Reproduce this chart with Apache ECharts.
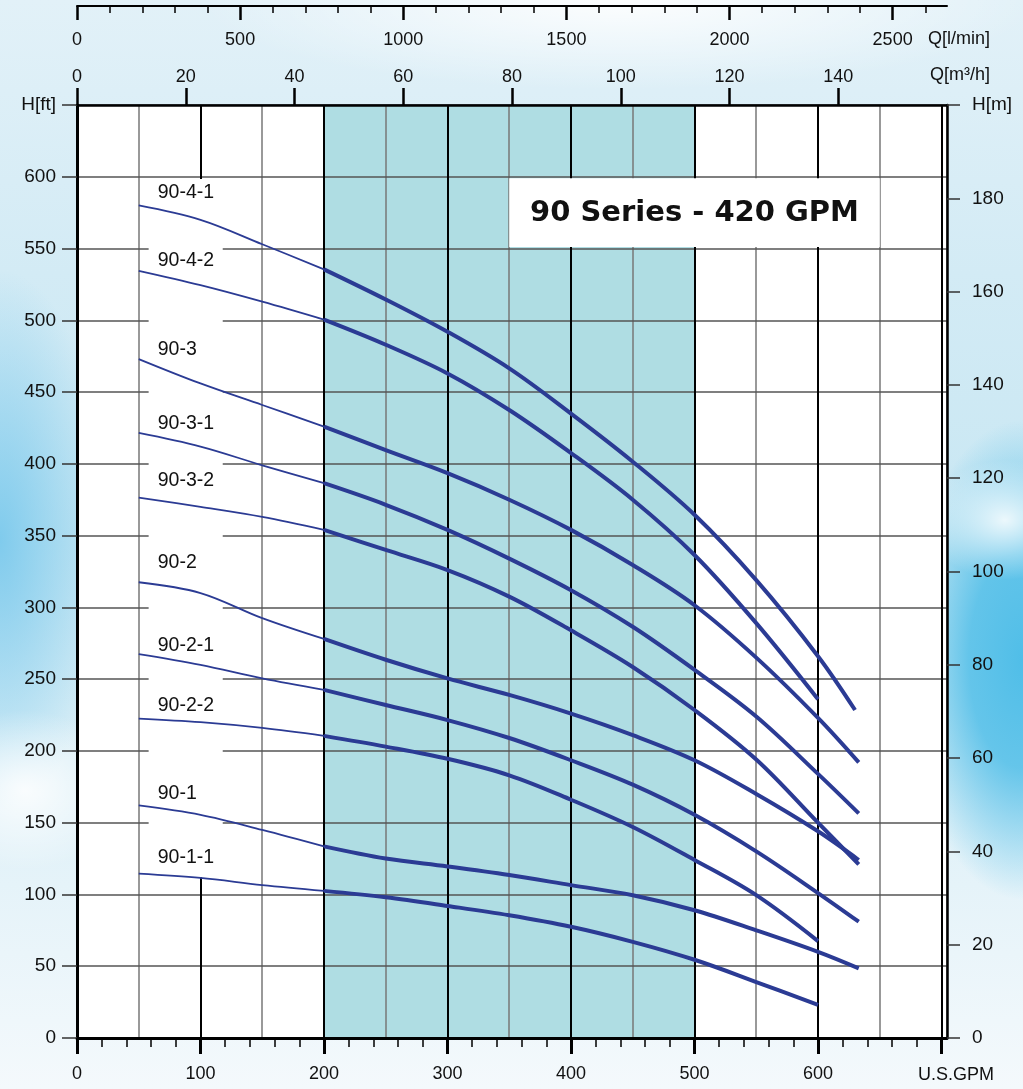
<!DOCTYPE html>
<html>
<head>
<meta charset="utf-8">
<title>90 Series - 420 GPM</title>
<script src="https://cdn.jsdelivr.net/npm/echarts@6/dist/echarts.min.js"></script>
<style>
  html, body { margin: 0; padding: 0; }
  body {
    width: 1023px;
    height: 1089px;
    overflow: hidden;
    background:
      radial-gradient(ellipse 420px 90px at 620px 0px, rgba(255,255,255,0.9), rgba(255,255,255,0) 100%),
      radial-gradient(ellipse 80px 60px at 1005px 520px, rgba(255,255,255,0.85), rgba(255,255,255,0) 100%),
      radial-gradient(ellipse 120px 240px at 1023px 660px, rgba(80,190,232,1) 0%, rgba(80,190,232,0.85) 45%, rgba(80,190,232,0) 100%),
      radial-gradient(ellipse 100px 80px at 25px 790px, rgba(255,255,255,0.85), rgba(255,255,255,0) 100%),
      radial-gradient(ellipse 110px 270px at 0px 540px, rgba(120,200,236,0.9), rgba(120,200,236,0) 100%),
      linear-gradient(180deg, #e2f1f8 0%, #d3ebf5 25%, #c8e7f3 50%, #e0f1f8 75%, #f4f9fc 100%);
  }
  #chart { width: 1023px; height: 1089px; }
</style>
</head>
<body>
<div id="chart"></div>
<script>
// pump curves: head in ft against flow in U.S. GPM
const curveNames = ['90-4-1', '90-4-2', '90-3', '90-3-1', '90-3-2', '90-2', '90-2-1', '90-2-2', '90-1', '90-1-1'];
const flowGpm = [50, 100, 150, 200, 250, 300, 350, 400, 450, 500, 550, 600];
// flow of the last point of each curve
const endFlowGpm = [630, 600, 633, 633, 633, 633, 633, 600, 633, 600];

const head_90_4_1 = [580, 570, 553, 535.5, 514.5, 492, 466.5, 435, 401.5, 364.5, 319, 266, 228.5];
const head_90_4_2 = [534.5, 524.5, 513, 500.5, 483, 463, 437.5, 407.5, 375, 336.5, 289, 236];
const head_90_3 = [473, 456, 441, 426, 409.5, 393.5, 375, 354, 329.5, 301.5, 265, 223, 192];
const head_90_3_1 = [421.5, 412, 399, 386.5, 371.5, 354, 334, 312, 286.5, 256.5, 224, 184, 156.5];
const head_90_3_2 = [376.5, 370, 363, 354, 340, 326, 307.5, 284, 258.5, 228.5, 194, 150, 121];
const head_90_2 = [317.5, 310, 292.5, 278, 263.5, 250.5, 239, 226, 211, 193.5, 170, 144, 124];
const head_90_2_1 = [267.5, 260, 250.5, 242.5, 232, 221.5, 209, 193.5, 176.5, 155.5, 130, 101, 81];
const head_90_2_2 = [222.5, 220, 216, 210.5, 203, 194.5, 183, 166, 147, 124, 99.5, 67.5];
const head_90_1 = [162, 155.5, 145, 133.5, 125, 119.5, 113.5, 106.5, 99.5, 89, 75, 60, 48.5];
const head_90_1_1 = [114.5, 111.5, 106.5, 102.5, 98, 92, 85.5, 77.5, 67, 54.5, 39, 23];

const heads = [head_90_4_1, head_90_4_2, head_90_3, head_90_3_1, head_90_3_2,
  head_90_2, head_90_2_1, head_90_2_2, head_90_1, head_90_1_1];

// tick labels
const gpmTicks = [0, 100, 200, 300, 400, 500, 600, 700];
const gpmLabels = [0, 100, 200, 300, 400, 500, 600];
const lpmTicks = [0, 500, 1000, 1500, 2000, 2500];
const gpmMinorTicks = [];
for (let v = 20; v < 700; v += 20) if (v % 100) gpmMinorTicks.push(v);
const lpmMinorTicks = [];
for (let v = 100; v <= 2600; v += 100) if (v % 500) lpmMinorTicks.push(v);

const M3H_MAX = 160;
const GPM_MAX = M3H_MAX * 4.402868;
const LPM_MAX = M3H_MAX * 1000 / 60;

// how far each curve name sits above its first point (px)
const labelLift = [12.5, 10, 9, 9.5, 16.5, 20, 8, 13.5, 11.5, 16.5];

const FONT = 'Liberation Sans, Arial, Helvetica, sans-serif';
const BLUE = '#2b3b94';
const TEAL = '#afdde3';
const xFont = { fontFamily: FONT, fontSize: 18, color: '#111' };
const yFont = { fontFamily: FONT, fontSize: 19, color: '#111' };
const plain = function (v) { return String(v); };

const chart = echarts.init(document.getElementById('chart'), null, { renderer: 'canvas' });

const series = [
  {
    name: 'shade',
    type: 'line',
    data: [],
    silent: true,
    z: 1,
    markArea: {
      silent: true,
      itemStyle: { color: TEAL },
      label: { show: false },
      data: [[{ xAxis: 200 }, { xAxis: 500 }]]
    }
  }
];

heads.forEach(function (h, i) {
  const flows = flowGpm.slice(0, h.length - 1).concat([endFlowGpm[i]]);
  const pts = h.map(function (v, k) { return [flows[k], v]; });
  const k200 = flows.indexOf(200);
  series.push({
    name: curveNames[i],
    type: 'line',
    data: pts.slice(0, k200 + 1),
    smooth: 0.35,
    showSymbol: false,
    silent: true,
    z: 5,
    lineStyle: { color: BLUE, width: 1.8 },
    markPoint: {
      silent: true,
      symbol: 'circle',
      symbolSize: 0,
      data: [{ name: curveNames[i], coord: pts[0] }],
      label: {
        show: true,
        position: 'inside',
        align: 'left',
        verticalAlign: 'middle',
        offset: [19, -labelLift[i]],
        formatter: '{b}',
        fontFamily: FONT,
        fontSize: 19.5,
        color: '#111'
      }
    }
  });
  series.push({
    name: curveNames[i],
    type: 'line',
    data: pts.slice(k200),
    smooth: 0.35,
    showSymbol: false,
    silent: true,
    z: 5,
    lineStyle: { color: BLUE, width: 4 }
  });
});

chart.setOption({
  animation: false,
  grid: {
    left: 77, right: 76, top: 105, bottom: 51,
    show: true,
    backgroundColor: '#fff',
    borderWidth: 0
  },
  xAxis: [
    { // U.S. GPM, major ticks and black grid lines
      type: 'value', position: 'bottom', min: 0, max: GPM_MAX, interval: 100, z: 3,
      axisLine: { show: true, onZero: false, lineStyle: { color: '#000', width: 3 } },
      axisTick: { show: true, customValues: gpmTicks, length: 16, lineStyle: { color: '#000', width: 3 } },
      axisLabel: Object.assign({ customValues: gpmLabels, margin: 27, formatter: plain }, xFont),
      splitLine: { show: true, lineStyle: { color: '#000', width: 2 } }
    },
    { // minor ticks every 20 GPM
      type: 'value', position: 'bottom', min: 0, max: GPM_MAX, z: 3,
      axisLine: { show: false, onZero: false },
      axisTick: { show: true, customValues: gpmMinorTicks, length: 9, lineStyle: { color: '#000', width: 1.5 } },
      axisLabel: { show: false },
      splitLine: { show: false }
    },
    { // grey grid lines every 50 GPM
      type: 'value', position: 'bottom', min: 0, max: GPM_MAX, interval: 50, z: 2,
      axisLine: { show: false, onZero: false },
      axisTick: { show: false },
      axisLabel: { show: false },
      splitLine: { show: true, lineStyle: { color: '#777', width: 1.5 } }
    },
    { // Q [m3/h]
      type: 'value', position: 'top', min: 0, max: M3H_MAX, interval: 20, z: 3,
      axisLine: { show: true, onZero: false, lineStyle: { color: '#000', width: 2.5 } },
      axisTick: { show: true, length: 17, lineStyle: { color: '#000', width: 2.5 } },
      axisLabel: Object.assign({ margin: 19, showMaxLabel: false, formatter: plain }, xFont),
      splitLine: { show: false }
    },
    { // Q [l/min]
      type: 'value', position: 'top', offset: 99, min: 0, max: LPM_MAX, z: 3,
      axisLine: { show: true, onZero: false, lineStyle: { color: '#000', width: 2 } },
      axisTick: { show: true, inside: true, customValues: lpmTicks, length: 14, lineStyle: { color: '#000', width: 2.5 } },
      axisLabel: Object.assign({ inside: true, customValues: lpmTicks, margin: 25, formatter: plain }, xFont),
      splitLine: { show: false }
    },
    { // Q [l/min] minor ticks
      type: 'value', position: 'top', offset: 99, min: 0, max: LPM_MAX, z: 3,
      axisLine: { show: false, onZero: false },
      axisTick: { show: true, inside: true, customValues: lpmMinorTicks, length: 7, lineStyle: { color: '#000', width: 1.5 } },
      axisLabel: { show: false },
      splitLine: { show: false }
    }
  ],
  yAxis: [
    { // H [ft]
      type: 'value', position: 'left', min: 0, max: 650, interval: 50, z: 3,
      axisLine: { show: true, onZero: false, lineStyle: { color: '#000', width: 3 } },
      axisTick: { show: true, length: 15, lineStyle: { color: '#333', width: 1.5 } },
      axisLabel: Object.assign({
        margin: 21,
        formatter: function (v) { return v === 650 ? 'H[ft]' : String(v); }
      }, yFont),
      splitLine: { show: true, lineStyle: { color: '#555', width: 1.5 } }
    },
    { // H [m]
      type: 'value', position: 'right', min: 0, max: 200, interval: 20, z: 3,
      axisLine: { show: true, onZero: false, lineStyle: { color: '#000', width: 2.5 } },
      axisTick: { show: true, length: 13, lineStyle: { color: '#333', width: 1.5 } },
      axisLabel: Object.assign({
        margin: 25,
        formatter: function (v) { return v === 200 ? 'H[m]' : String(v); }
      }, yFont),
      splitLine: { show: false }
    }
  ],
  series: series
});

// white boxes (curve names column, title) and axis names
const toPx = function (p) { return chart.convertToPixel({ xAxisIndex: 0, yAxisIndex: 0 }, p); };
const nameTopLeft = toPx([58, 598.5]);
const nameBotRight = toPx([118, 112]);
const titleTopLeft = toPx([350, 599]);
const titleBotRight = toPx([650, 551]);

chart.setOption({
  graphic: [
    {
      type: 'rect', silent: true, z: 4,
      shape: { x: nameTopLeft[0], y: nameTopLeft[1], width: nameBotRight[0] - nameTopLeft[0], height: nameBotRight[1] - nameTopLeft[1] },
      style: { fill: '#fff' }
    },
    {
      type: 'rect', silent: true, z: 4,
      shape: { x: titleTopLeft[0], y: titleTopLeft[1], width: titleBotRight[0] - titleTopLeft[0], height: titleBotRight[1] - titleTopLeft[1] },
      style: { fill: '#fff' }
    },
    {
      type: 'text', silent: true, z: 6,
      x: (titleTopLeft[0] + titleBotRight[0]) / 2,
      y: (titleTopLeft[1] + titleBotRight[1]) / 2 + 1,
      style: {
        text: '90 Series - 420 GPM',
        fontFamily: 'DejaVu Sans, Liberation Sans, sans-serif',
        fontWeight: 'bold',
        fontSize: 29,
        fill: '#111',
        align: 'center',
        verticalAlign: 'middle'
      }
    },
    {
      type: 'text', silent: true, z: 6, x: 928, y: 30,
      style: { text: 'Q[l/min]', fontFamily: FONT, fontSize: 18, fill: '#111' }
    },
    {
      type: 'text', silent: true, z: 6, x: 930, y: 66,
      style: { text: 'Q[m³/h]', fontFamily: FONT, fontSize: 18, fill: '#111' }
    },
    {
      type: 'text', silent: true, z: 6, x: 918, y: 1066,
      style: { text: 'U.S.GPM', fontFamily: FONT, fontSize: 18, fill: '#111' }
    }
  ]
});
</script>
</body>
</html>
